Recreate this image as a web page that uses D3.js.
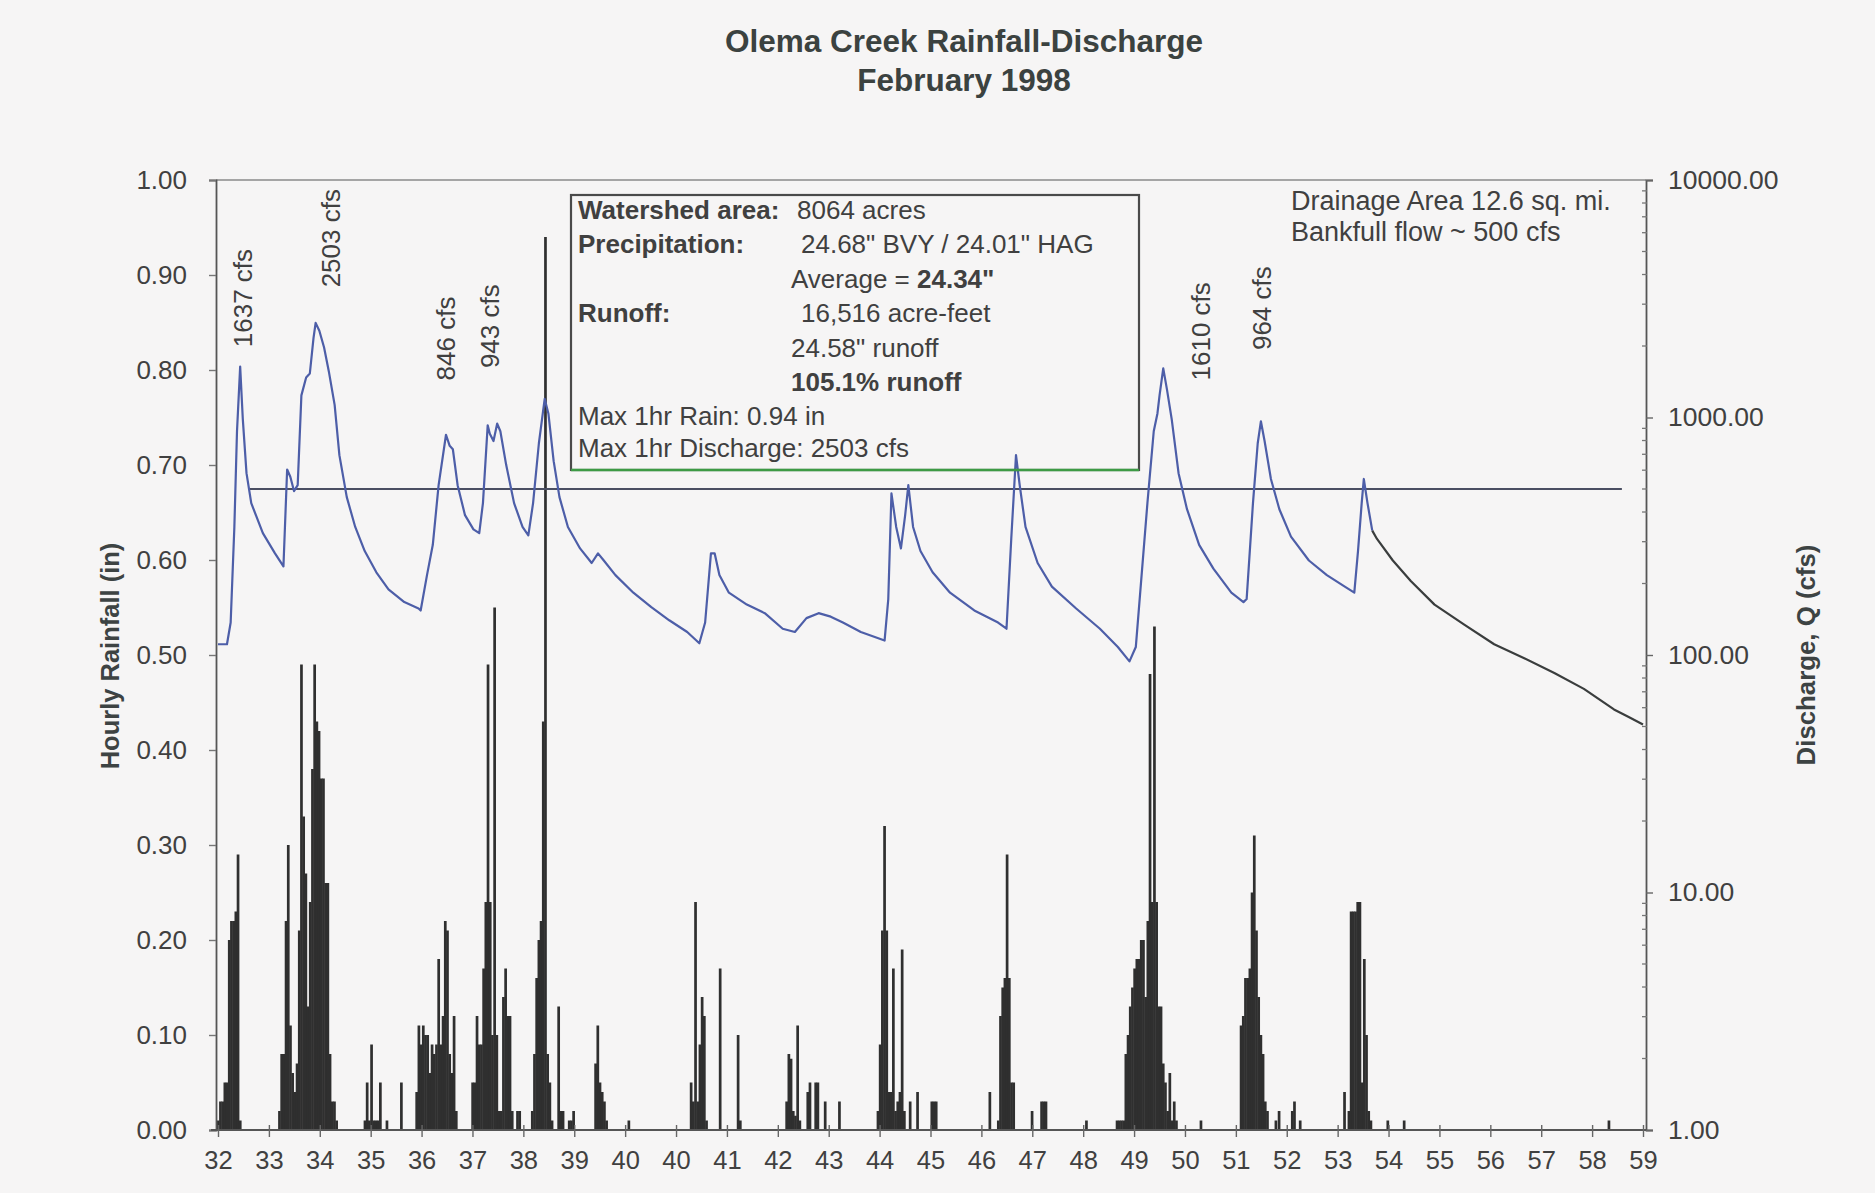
<!DOCTYPE html>
<html><head><meta charset="utf-8">
<script src="https://cdn.jsdelivr.net/npm/d3@7"></script>
<style>
html,body{margin:0;padding:0;background:#f6f5f5;}
svg{display:block;}
text{font-family:"Liberation Sans", Arial, sans-serif;}
</style></head><body>
<svg id="chart" width="1875" height="1193"></svg>
<script>
// ---------------- DATA ----------------
const titleLines = ["Olema Creek Rainfall-Discharge", "February 1998"];
const xTickLabels = ["32","33","34","35","36","37","38","39","40","40","41","42","43","44","45","46","47","48","49","50","51","52","53","54","55","56","57","58","59"];
const rainTicks = [0.0,0.1,0.2,0.3,0.4,0.5,0.6,0.7,0.8,0.9,1.0];
const flowTicks = [1,10,100,1000,10000];
const dayDomain = [32, 59];

// discharge (day-of-year, cfs) - hourly gauge record, measured part
const discharge = [
 [32.00,111],[32.17,111],[32.24,137],[32.31,346],[32.36,875],[32.42,1637],[32.47,984],[32.54,583],[32.63,436],
 [32.85,326],[33.08,268],[33.24,236],[33.31,604],[33.37,563],[33.44,490],[33.51,519],[33.58,1239],[33.67,1475],
 [33.74,1532],[33.81,2162],[33.85,2503],[33.92,2318],[34.01,1971],[34.10,1563],[34.21,1130],[34.30,694],[34.44,462],
 [34.60,346],[34.78,274],[35.00,223],[35.23,189],[35.53,167],[35.80,157],[35.84,154],[35.96,217],[36.07,291],
 [36.18,519],[36.32,846],[36.39,760],[36.45,735],[36.54,519],[36.68,388],[36.84,338],[36.95,326],[37.02,436],
 [37.11,927],[37.15,855],[37.22,796],[37.29,943],[37.35,875],[37.46,632],[37.61,436],[37.77,346],[37.88,319],
 [37.97,436],[38.08,779],[38.19,1197],[38.26,1040],[38.36,655],[38.47,462],[38.63,346],[38.86,281],[39.08,244],
 [39.20,268],[39.31,250],[39.53,217],[39.87,183],[40.21,159],[40.55,140],[40.89,125],[41.12,112],[41.23,137],
 [41.34,268],[41.41,268],[41.50,217],[41.68,183],[42.02,163],[42.36,150],[42.70,129],[42.93,125],[43.15,143],
 [43.38,150],[43.61,145],[43.84,137],[44.18,125],[44.63,115],[44.70,172],[44.76,479],[44.85,346],[44.94,281],
 [45.02,388],[45.08,519],[45.17,346],[45.31,274],[45.54,223],[45.87,183],[46.33,154],[46.78,137],[46.94,129],
 [47.03,308],[47.12,694],[47.19,519],[47.30,346],[47.53,244],[47.80,194],[48.26,157],[48.71,129],[49.05,108],
 [49.27,94],[49.39,108],[49.50,217],[49.61,436],[49.73,875],[49.80,1040],[49.84,1239],[49.91,1610],[49.98,1313],
 [50.07,984],[50.20,583],[50.36,411],[50.59,291],[50.86,231],[51.20,183],[51.43,167],[51.49,172],[51.61,436],
 [51.70,779],[51.76,964],[51.83,796],[51.95,551],[52.11,411],[52.33,315],[52.67,250],[53.01,217],[53.35,194],
 [53.53,183],[53.60,274],[53.67,436],[53.71,551],[53.78,436],[53.87,334]
];
// recession continuing to end of month (drawn in black)
const dischargeTail = [
 [53.87,334],[53.96,308],[54.26,250],[54.60,205],[55.05,163],[55.62,134],[56.18,111],[56.75,97],
 [57.32,84],[57.88,72],[58.45,59],[58.72,55],[59.00,51]
];
const bankfullCfs = 500;
const bankfullDays = [32.58, 58.6];

// hourly rainfall bursts: [start day, hourly inches...]
const rainBursts = [
 [32.00, [0.01,0.03,0.03,0.05,0.05,0.20,0.22,0.22,0.23,0.29,0.01]],
 [33.16, [0.02,0.08,0.08,0.22,0.30,0.11,0.06,0.04,0.07,0.21,0.49,0.33,0.27,0.13,0.24,0.38,0.49,0.43,0.42,0.37,0.37,0.26,0.26,0.08,0.03,0.03,0.01]],
 [34.78, [0.01,0.05,0.01,0.09,0.01,0.01,0.01,0.05,0,0,0.01]],
 [35.47, [0.05]],
 [35.76, [0.04,0.11,0.09,0.11,0.10,0.10,0.06,0.09,0.08,0.09,0.18,0.09,0.12,0.22,0.21,0.08,0.06,0.12,0.02]],
 [36.82, [0.05,0.05,0.12,0.09,0.09,0.17,0.24,0.49,0.24,0.10,0.55,0.10,0.02,0.02,0.14,0.17,0.12,0.12,0.02]],
 [37.67, [0.02,0.02]],
 [37.95, [0.02,0.08,0.16,0.20,0.22,0.43,0.94,0.08,0.05,0.01]],
 [38.45, [0.13,0.02,0.02]],
 [38.65, [0.01,0.01,0.02]],
 [39.15, [0.07,0.11,0.05,0.04,0.03,0.01]],
 [39.78, [0.01]],
 [40.96, [0.05,0.03,0.24,0.03,0.09,0.14,0.12,0.01]],
 [41.51, [0.17]],
 [41.85, [0.10,0.01]],
 [42.77, [0.03,0.08,0.075,0.02,0.015,0.11,0.01]],
 [43.17, [0.04,0.05]],
 [43.32, [0.05,0.05]],
 [43.50, [0.03]],
 [43.77, [0.03]],
 [44.50, [0.02,0.09,0.21,0.32,0.21,0.04,0.04,0.17,0.02,0.03,0.04,0.19,0.02]],
 [45.11, [0.03]],
 [45.25, [0.04]],
 [45.52, [0.03,0.03,0.03]],
 [46.62, [0.04]],
 [46.78, [0.01,0.12,0.15,0.16,0.29,0.16,0.05,0.05]],
 [47.42, [0.02]],
 [47.60, [0.03,0.03,0.03]],
 [48.45, [0.01]],
 [49.03, [0.01,0.01,0.01,0.01,0.08,0.10,0.13,0.15,0.17,0.18,0.18,0.20,0.20,0.14,0.22,0.48,0.24,0.53,0.24,0.13,0.13,0.07,0.05,0.02,0.06,0.01,0.03,0.01]],
 [50.62, [0.01]],
 [51.38, [0.11,0.12,0.16,0.16,0.17,0.25,0.31,0.21,0.14,0.10,0.08,0.03,0.02]],
 [52.04, [0.01]],
 [52.10, [0.02]],
 [52.35, [0.02,0.03]],
 [52.50, [0.01]],
 [53.34, [0.04,0,0.02,0.23,0.23,0.23,0.24,0.24,0.05,0.18,0.10,0.02,0.01]],
 [54.16, [0.01]],
 [54.47, [0.01]],
 [58.35, [0.01]]
];

const peakLabels = ["1637 cfs","2503 cfs","846 cfs","943 cfs","1610 cfs","964 cfs"];

const infoLines = [
 [["Watershed area:", true, 0], ["8064 acres", false, 1]],
 [["Precipitation:", true, 0], ["24.68\" BVY / 24.01\" HAG", false, 2]],
 [["Average = ", false, 3], ["24.34\"", true, -1]],
 [["Runoff:", true, 0], ["16,516 acre-feet", false, 2]],
 [["24.58\" runoff", false, 3]],
 [["105.1% runoff", true, 3]],
 [["Max 1hr Rain: 0.94 in", false, 0]],
 [["Max 1hr Discharge: 2503 cfs", false, 0]]
];
const noteLines = ["Drainage Area 12.6 sq. mi.", "Bankfull flow ~ 500 cfs"];
const leftTitle = "Hourly Rainfall (in)";
const rightTitle = "Discharge, Q (cfs)";

// ---------------- LAYOUT ----------------
const W = 1875, H = 1193;
const plot = {left: 216, right: 1646, top: 180, bottom: 1130};
const svg = d3.select("#chart");
const ink = "#404040";
const FS = 26;

svg.append("rect").attr("width", W).attr("height", H).attr("fill", "#f6f5f5");

const x = d3.scaleLinear().domain(dayDomain).range([218, 1643]);
const yRain = d3.scaleLinear().domain([0, 1]).range([plot.bottom, plot.top]);
const yQ = d3.scaleLog().domain([1, 10000]).range([plot.bottom, plot.top]);

// title
svg.selectAll("text.title").data(titleLines).join("text")
  .attr("class", "title")
  .attr("x", 964).attr("y", (d, i) => 52 + i * 39)
  .attr("text-anchor", "middle")
  .attr("font-size", 31.5).attr("font-weight", "bold")
  .attr("fill", "#3b4240").text(d => d);

// frame
svg.append("line").attr("x1", plot.left).attr("x2", plot.right).attr("y1", plot.top).attr("y2", plot.top)
  .attr("stroke", "#8a8a8a").attr("stroke-width", 1.6);

// rainfall bars
const hour = 1 / 24;
const bars = [];
rainBursts.forEach(([t0, vals]) => vals.forEach((v, i) => { if (v > 0) bars.push([t0 + i * hour, v]); }));
const bw = x(32 + hour) - x(32);
svg.append("g").selectAll("rect").data(bars).join("rect")
  .attr("x", d => x(d[0]) - bw / 2)
  .attr("width", bw + 0.5)
  .attr("y", d => yRain(d[1]))
  .attr("height", d => plot.bottom - yRain(d[1]))
  .attr("fill", "#2f2f2f");

// bankfull line
svg.append("line")
  .attr("x1", x(bankfullDays[0])).attr("x2", x(bankfullDays[1]))
  .attr("y1", yQ(bankfullCfs)).attr("y2", yQ(bankfullCfs))
  .attr("stroke", "#4a4e62").attr("stroke-width", 2.2);

// discharge lines
const line = d3.line().x(d => x(d[0])).y(d => yQ(d[1]));
svg.append("path").datum(discharge).attr("d", line)
  .attr("fill", "none").attr("stroke", "#4d5ea8").attr("stroke-width", 2.2).attr("stroke-linejoin", "round");
svg.append("path").datum(dischargeTail).attr("d", line)
  .attr("fill", "none").attr("stroke", "#3a3d3d").attr("stroke-width", 2.2).attr("stroke-linejoin", "round");

// left axis
const gL = svg.append("g").attr("transform", `translate(${plot.left},0)`)
  .call(d3.axisLeft(yRain).tickValues(rainTicks).tickFormat(d3.format(".2f")).tickSize(7).tickPadding(22));
gL.select(".domain").attr("stroke", "#555").attr("stroke-width", 1.8);
gL.selectAll(".tick line").attr("stroke", "#777").attr("stroke-width", 1.4);
gL.selectAll(".tick text").attr("font-size", FS).attr("fill", ink).attr("font-family", "Liberation Sans, Arial, sans-serif");

// right axis (log)
const gR = svg.append("g").attr("transform", `translate(${plot.right},0)`)
  .call(d3.axisRight(yQ).tickValues(flowTicks).tickFormat(d3.format(".2f")).tickSize(7).tickPadding(15));
gR.select(".domain").attr("stroke", "#555").attr("stroke-width", 1.8);
gR.selectAll(".tick line").attr("stroke", "#666").attr("stroke-width", 1.4);
gR.selectAll(".tick text").attr("font-size", FS + 0.5).attr("fill", ink).attr("font-family", "Liberation Sans, Arial, sans-serif");
const minor = [];
flowTicks.slice(0, -1).forEach(t => { for (let k = 2; k <= 9; k++) minor.push(t * k); });
svg.append("g").selectAll("line").data(minor).join("line")
  .attr("x1", plot.right - 4).attr("x2", plot.right + 1)
  .attr("y1", d => yQ(d)).attr("y2", d => yQ(d))
  .attr("stroke", "#777").attr("stroke-width", 1.3);

// bottom axis
const tickStep = (dayDomain[1] - dayDomain[0]) / (xTickLabels.length - 1);
const xTickVals = xTickLabels.map((_, i) => dayDomain[0] + i * tickStep);
const gB = svg.append("g").attr("transform", `translate(0,${plot.bottom})`)
  .call(d3.axisBottom(x).tickValues(xTickVals).tickFormat((d, i) => xTickLabels[i]).tickSize(7).tickPadding(14));
gB.select(".domain").attr("d", `M${plot.left - 5},0H${plot.right}`).attr("stroke", "#555").attr("stroke-width", 1.8);
gB.selectAll(".tick line").attr("y1", -5).attr("stroke", "#666").attr("stroke-width", 1.4);
gB.selectAll(".tick text").attr("font-size", FS - 0.5).attr("fill", ink).attr("font-family", "Liberation Sans, Arial, sans-serif");

// axis titles
svg.append("text").attr("transform", `translate(110,656) rotate(-90)`)
  .attr("text-anchor", "middle").attr("dy", "0.35em")
  .attr("font-size", 25.5).attr("font-weight", "bold").attr("fill", "#3d4343").text(leftTitle);
svg.append("text").attr("transform", `translate(1806,655) rotate(-90)`)
  .attr("text-anchor", "middle").attr("dy", "0.35em")
  .attr("font-size", 25.8).attr("font-weight", "bold").attr("fill", "#3d4343").text(rightTitle);

// peak labels (vertical)
const peakAnchors = [[32.47, 0.824], [34.14, 0.887], [36.31, 0.789], [37.15, 0.802], [50.62, 0.789], [51.77, 0.821]];
svg.append("g").selectAll("text").data(peakLabels).join("text")
  .attr("transform", (d, i) => `translate(${x(peakAnchors[i][0])},${yRain(peakAnchors[i][1])}) rotate(-90)`)
  .attr("dy", "0.35em").attr("font-size", FS).attr("fill", ink).text(d => d);

// info box
const box = {x: 571, y: 195, w: 568, h: 275};
svg.append("rect").attr("x", box.x).attr("y", box.y).attr("width", box.w).attr("height", box.h)
  .attr("fill", "none").attr("stroke", "#4a4a4a").attr("stroke-width", 2.2);
svg.append("line").attr("x1", box.x).attr("x2", box.x + box.w).attr("y1", box.y + box.h).attr("y2", box.y + box.h)
  .attr("stroke", "#3d9a45").attr("stroke-width", 2.4);
const cols = [578, 797, 801, 791];
const baselines = [219, 253, 288, 322, 357, 391, 425, 457];
infoLines.forEach((segs, li) => {
  const t = svg.append("text").attr("y", baselines[li]).attr("font-size", 26).attr("fill", ink);
  segs.forEach(([s, b, c]) => {
    const sp = t.append("tspan").text(s).attr("font-weight", b ? "bold" : "normal");
    if (c >= 0) sp.attr("x", cols[c]);
  });
});

// notes
svg.selectAll("text.note").data(noteLines).join("text").attr("class", "note")
  .attr("x", 1291).attr("y", (d, i) => 210 + i * 31)
  .attr("font-size", 27).attr("fill", ink).text(d => d);
</script>
</body></html>
